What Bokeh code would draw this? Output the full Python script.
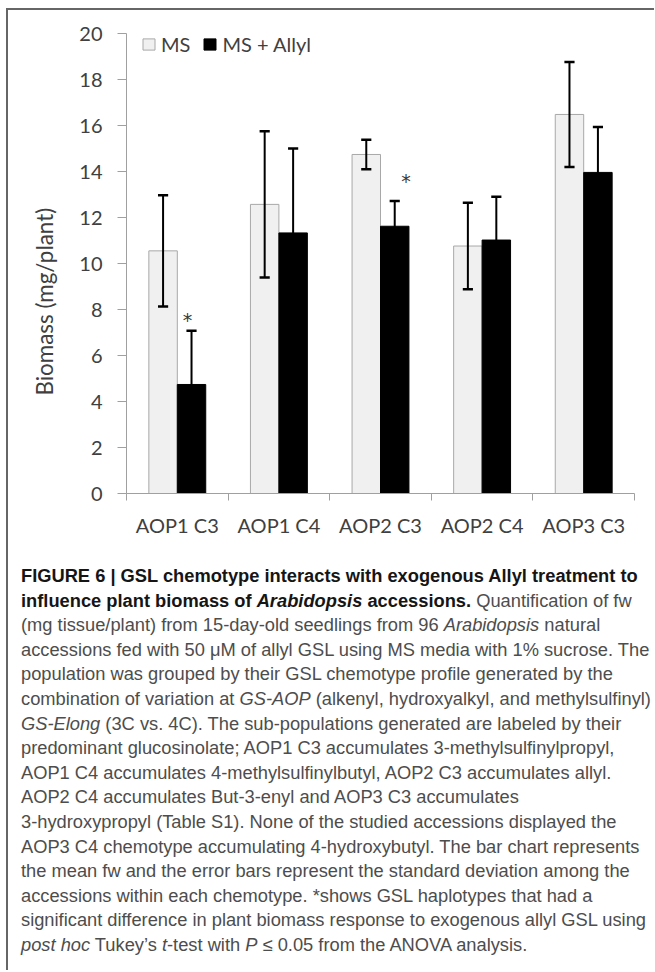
from bokeh.plotting import figure
from bokeh.models import Range1d, FixedTicker, Title, Div, Legend, LegendItem
from bokeh.layouts import column, row
from bokeh.core.properties import value
from bokeh.embed import file_html
from bokeh.resources import INLINE

# ---------------- data ----------------
groups = ["AOP1 C3", "AOP1 C4", "AOP2 C3", "AOP2 C4", "AOP3 C3"]
ms_mean = [10.55, 12.57, 14.74, 10.76, 16.48]
ms_sd = [2.42, 3.18, 0.64, 1.88, 2.28]
allyl_mean = [4.74, 11.33, 11.62, 11.02, 13.96]
allyl_sd = [2.34, 3.67, 1.10, 1.88, 1.98]
sig_groups = ["AOP1 C3", "AOP2 C3"]
sig_y = [7.74, 13.8]
sig_dx = [0.10, 0.25]          # horizontal placement of the asterisks within the group
yticks = [0, 2, 4, 6, 8, 10, 12, 14, 16, 18, 20]
series_names = ["MS", "MS + Allyl"]

# ---------------- styling ----------------
FONT = "Lato"
TXT = "#404040"
AX = "#a0a0a0"
FRAME = "#666666"
W = 0.28
CAP = 0.05

n = len(groups)
centers = [i + 0.5 for i in range(n)]
ms_x = [c - W / 2 for c in centers]
al_x = [c + W / 2 for c in centers]

p = figure(output_backend="svg", toolbar_location=None,
           x_range=Range1d(0, n), y_range=Range1d(0, 20),
           frame_width=508, frame_height=460,
           min_border_left=118, min_border_right=20,
           min_border_top=23, min_border_bottom=71)
p.outline_line_color = None
p.xgrid.grid_line_color = None
p.ygrid.grid_line_color = None
p.background_fill_color = "white"
p.border_fill_color = "white"

ms_r = p.vbar(x=ms_x, top=ms_mean, bottom=0, width=W,
              fill_color="#f0f0f0", line_color="#a8a8a8", line_width=1)
al_r = p.vbar(x=al_x, top=allyl_mean, bottom=0, width=W,
              fill_color="black", line_color="black", line_width=1)

# error bars
for xs, m, sd in ((ms_x, ms_mean, ms_sd), (al_x, allyl_mean, allyl_sd)):
    lo = [a - b for a, b in zip(m, sd)]
    hi = [a + b for a, b in zip(m, sd)]
    p.segment(x0=xs, y0=lo, x1=xs, y1=hi, line_color="black", line_width=2)
    p.segment(x0=[x - CAP for x in xs], y0=hi, x1=[x + CAP for x in xs], y1=hi,
              line_color="black", line_width=2.5)
    p.segment(x0=[x - CAP for x in xs], y0=lo, x1=[x + CAP for x in xs], y1=lo,
              line_color="black", line_width=2.5)

# significance asterisks
sx = [groups.index(g) + 0.5 + dx for g, dx in zip(sig_groups, sig_dx)]
p.text(x=sx, y=sig_y, text=["*"] * len(sx), text_font=value("DejaVu Sans"),
       text_font_size="19px", text_color="#383838", text_align="center",
       text_baseline="middle", y_offset=5)

# axes
xa = p.xaxis[0]
xa.ticker = FixedTicker(ticks=centers, minor_ticks=list(range(n + 1)))
xa.major_label_overrides = {c: g for c, g in zip(centers, groups)}
xa.major_tick_line_color = None
xa.major_tick_out = 0
xa.major_tick_in = 0
xa.minor_tick_out = 7
xa.minor_tick_in = 0
xa.minor_tick_line_color = AX
xa.axis_line_color = AX
xa.major_label_text_font = FONT
xa.major_label_text_font_size = "20px"
xa.major_label_text_color = TXT
xa.major_label_standoff = 12

ya = p.yaxis[0]
ya.ticker = FixedTicker(ticks=yticks)
ya.major_tick_out = 9
ya.major_tick_in = 0
ya.minor_tick_line_color = None
ya.major_tick_line_color = AX
ya.axis_line_color = AX
ya.major_label_text_font = FONT
ya.major_label_text_font_size = "20px"
ya.major_label_text_color = TXT
ya.major_label_standoff = 15

ytitle = Title(text="Biomass (mg/plant)", align="left", offset=98,
               standoff=37, text_font=FONT, text_font_size="22.4px",
               text_font_style="normal", text_color=TXT)
p.add_layout(ytitle, "left")

legend = Legend(items=[LegendItem(label=series_names[0], renderers=[ms_r]),
                       LegendItem(label=series_names[1], renderers=[al_r])],
                location=(15, 437), orientation="horizontal",
                padding=0, margin=0, spacing=12, label_standoff=5,
                glyph_width=15, glyph_height=14,
                label_text_font=FONT, label_text_font_size="20px",
                label_text_color=TXT, background_fill_alpha=0,
                border_line_color=None)
p.add_layout(legend)

caption = """<div style="font-family:'Liberation Sans',Arial,sans-serif;font-size:18.3px;line-height:24.6px;color:#4d4d4d;white-space:nowrap;padding-left:13px;">
<b style="color:#151515">FIGURE 6 | GSL chemotype interacts with exogenous Allyl treatment to</b><br>
<b style="color:#151515">influence plant biomass of <i>Arabidopsis</i> accessions.</b> Quantification of fw<br>
(mg tissue/plant) from 15-day-old seedlings from 96 <i>Arabidopsis</i> natural<br>
accessions fed with 50 &mu;M of allyl GSL using MS media with 1% sucrose. The<br>
population was grouped by their GSL chemotype profile generated by the<br>
combination of variation at <i>GS-AOP</i> (alkenyl, hydroxyalkyl, and methylsulfinyl)<br>
<i>GS-Elong</i> (3C vs. 4C). The sub-populations generated are labeled by their<br>
predominant glucosinolate; AOP1 C3 accumulates 3-methylsulfinylpropyl,<br>
AOP1 C4 accumulates 4-methylsulfinylbutyl, AOP2 C3 accumulates allyl.<br>
AOP2 C4 accumulates But-3-enyl and AOP3 C3 accumulates<br>
3-hydroxypropyl (Table S1). None of the studied accessions displayed the<br>
AOP3 C4 chemotype accumulating 4-hydroxybutyl. The bar chart represents<br>
the mean fw and the error bars represent the standard deviation among the<br>
accessions within each chemotype. *shows GSL haplotypes that had a<br>
significant difference in plant biomass response to exogenous allyl GSL using<br>
<i>post hoc</i> Tukey&rsquo;s <i>t</i>-test with <i>P</i> &le; 0.05 from the ANOVA analysis.
</div>"""
div = Div(text=caption, width=646, height=406, margin=(0, 0, 0, 0),
          styles={"overflow": "hidden"})

top_line = Div(text="", width=648, height=2, margin=(0, 0, 0, 0),
               styles={"background-color": FRAME})
left_line = Div(text="", width=2, height=960, margin=(0, 0, 0, 0),
                styles={"background-color": FRAME})

layout = column(top_line, row(left_line, column(p, div, spacing=0), spacing=0),
                spacing=0, margin=(8, 0, 0, 6))

open("out.html", "w").write(file_html(layout, INLINE))
